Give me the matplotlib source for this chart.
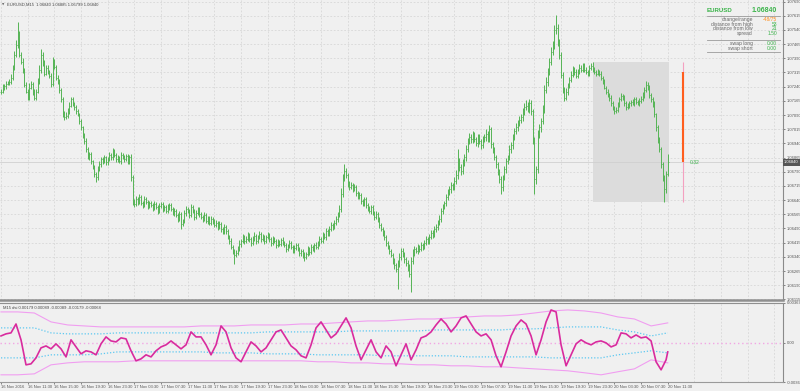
import numpy as np
import matplotlib
matplotlib.use("Agg")
import matplotlib.pyplot as plt
from matplotlib.patches import Rectangle

plt.rcParams['font.family'] = ['Liberation Sans', 'DejaVu Sans']

# ---------------- data ----------------
symbol = "EURUSD"
timeframe = "M15"
title_ohlc = "1.06840 1.06885 1.06799 1.06840"

# bar closes in points (1e-5)
close_pts = [
    107214, 107235, 107245, 107256, 107261, 107266, 107287, 107340, 107409, 107461,
    107514, 107409, 107372, 107330, 107251, 107214, 107182, 107235, 107256, 107214,
    107182, 107214, 107266, 107330, 107409, 107361, 107309, 107340, 107319, 107298,
    107256, 107372, 107345, 107287, 107266, 107224, 107172, 107098, 107077, 107087,
    107109, 107140, 107172, 107151, 107130, 107109, 107093, 107056, 107024, 106982,
    106951, 106909, 106866, 106882, 106845, 106814, 106777, 106761, 106803, 106830,
    106856, 106845, 106866, 106840, 106856, 106877, 106866, 106898, 106877, 106856,
    106866, 106845, 106877, 106866, 106856, 106872, 106845, 106866, 106761, 106635,
    106619, 106645, 106630, 106656, 106624, 106614, 106645, 106630, 106609, 106624,
    106614, 106598, 106619, 106603, 106582, 106609, 106619, 106593, 106603, 106582,
    106603, 106614, 106593, 106572, 106582, 106561, 106540, 106566, 106514, 106530,
    106572, 106593, 106582, 106561, 106603, 106582, 106551, 106572, 106593, 106566,
    106551, 106540, 106561, 106530, 106545, 106519, 106540, 106530, 106509, 106519,
    106498, 106514, 106488, 106472, 106498, 106477, 106445, 106424, 106393, 106372,
    106351, 106361, 106382, 106409, 106424, 106445, 106424, 106435, 106456, 106435,
    106414, 106435, 106451, 106424, 106445, 106461, 106435, 106445, 106424, 106445,
    106456, 106435, 106414, 106435, 106424, 106403, 106419, 106409, 106430, 106414,
    106403, 106382, 106398, 106414, 106393, 106372, 106388, 106403, 106382, 106361,
    106372, 106351, 106340, 106356, 106382, 106366, 106393, 106382, 106403, 106393,
    106414, 106435, 106424, 106456, 106445, 106477, 106461, 106488, 106509, 106498,
    106519, 106540, 106561, 106593, 106672, 106751, 106793, 106772, 106730, 106709,
    106719, 106698, 106709, 106677, 106656, 106666, 106635, 106619, 106645, 106614,
    106593, 106582, 106603, 106572, 106551, 106566, 106540, 106509, 106488, 106466,
    106445, 106414, 106393, 106372, 106351, 106319, 106298, 106277, 106309, 106340,
    106372, 106356, 106330, 106309, 106288, 106251, 106319, 106361, 106382, 106372,
    106393, 106382, 106403, 106393, 106414, 106435, 106424, 106445, 106466, 106456,
    106488, 106498, 106519, 106540, 106582, 106603, 106624, 106656, 106677, 106698,
    106719, 106709, 106740, 106772, 106845, 106814, 106793, 106835, 106866, 106909,
    106951, 106972, 106961, 106982, 106961, 106940, 106972, 106951, 106930, 106961,
    106972, 106987, 106961, 107014, 106935, 106909, 106866, 106830, 106793, 106751,
    106709, 106761, 106803, 106845, 106866, 106909, 106930, 106972, 107003, 107024,
    107045, 107066, 107077, 107109, 107130, 107140, 107119, 107151, 107109, 106961,
    106751, 106803, 106987, 107024, 107056, 107119, 107224, 107266, 107319, 107372,
    107424, 107461, 107540, 107551, 107477, 107409, 107303, 107224, 107182, 107214,
    107245, 107277, 107303, 107330, 107319, 107298, 107319, 107340, 107330, 107351,
    107330, 107319, 107309, 107340, 107351, 107330, 107319, 107309, 107319, 107309,
    107287, 107266, 107235, 107214, 107198, 107182, 107151, 107130, 107109, 107119,
    107145, 107172, 107193, 107182, 107151, 107130, 107140, 107151, 107161, 107151,
    107172, 107161, 107151, 107166, 107177, 107198, 107224, 107251, 107235, 107198,
    107172, 107151, 107093, 107024, 106961, 106909, 106830, 106761, 106698, 106777,
    106840,
]

# how far each bar's high / low reaches beyond its body (points)
hi_ext = [
    12, 18, 10, 15, 9, 14, 20, 16, 22, 25, 68, 20, 14, 18, 10, 12, 16, 22, 14, 10,
    15, 12, 20, 25, 30, 14, 18, 12, 16, 10, 14, 24, 12, 10, 15, 12, 9, 14, 12, 18,
    16, 20, 14, 12, 10, 15, 12, 10, 14, 9, 12, 16, 10, 14, 12, 9, 12, 10, 18, 15,
    12, 10, 14, 9, 12, 16, 10, 18, 12, 10, 14, 9, 15, 10, 12, 14, 10, 12, 16, 14,
    12, 18, 10, 14, 9, 12, 15, 10, 12, 14, 10, 12, 16, 9, 10, 14, 12, 9, 12, 10,
    14, 12, 9, 10, 15, 12, 10, 14, 9, 12, 18, 14, 10, 9, 16, 12, 10, 14, 12, 10,
    12, 9, 14, 10, 12, 9, 15, 10, 12, 14, 10, 16, 9, 12, 14, 10, 12, 9, 14, 10,
    12, 16, 14, 18, 12, 15, 10, 14, 16, 12, 10, 14, 18, 12, 10, 16, 12, 14, 10, 12,
    15, 10, 12, 14, 9, 12, 16, 10, 12, 14, 10, 9, 12, 15, 10, 12, 14, 10, 9, 12,
    12, 10, 14, 12, 16, 10, 14, 12, 10, 15, 12, 16, 10, 14, 12, 18, 10, 14, 16, 12,
    14, 16, 18, 20, 30, 25, 37, 18, 14, 12, 16, 12, 14, 10, 12, 15, 10, 12, 14, 10,
    12, 14, 10, 12, 9, 14, 12, 10, 12, 9, 14, 10, 12, 9, 12, 10, 14, 12, 16, 18,
    14, 16, 12, 10, 14, 12, 20, 18, 14, 12, 16, 12, 14, 10, 16, 14, 12, 16, 18, 14,
    16, 14, 18, 20, 16, 18, 14, 16, 20, 18, 16, 14, 20, 25, 63, 20, 16, 22, 20, 24,
    20, 24, 18, 22, 16, 14, 20, 18, 14, 16, 20, 30, 16, 24, 14, 12, 14, 10, 12, 10,
    14, 12, 16, 18, 14, 20, 16, 18, 20, 22, 18, 20, 16, 20, 24, 30, 18, 22, 16, 12,
    14, 16, 24, 20, 18, 22, 26, 24, 20, 22, 24, 20, 26, 68, 18, 14, 12, 16, 14, 18,
    16, 14, 18, 20, 14, 12, 16, 20, 14, 16, 12, 14, 10, 14, 12, 19, 12, 10, 14, 10,
    12, 10, 14, 9, 12, 10, 12, 14, 10, 12, 16, 14, 12, 10, 14, 12, 16, 12, 10, 14,
    12, 14, 10, 16, 14, 12, 16, 18, 14, 12, 10, 14, 12, 10, 12, 14, 10, 12, 14, 16,
    45,
]
lo_ext = [
    14, 10, 12, 16, 9, 12, 10, 14, 12, 10, 16, 14, 12, 18, 14, 10, 12, 14, 10, 16,
    12, 14, 10, 12, 16, 14, 12, 10, 14, 12, 16, 12, 10, 14, 12, 16, 14, 18, 12, 10,
    14, 12, 10, 16, 12, 14, 10, 12, 14, 16, 12, 14, 10, 12, 14, 12, 16, 26, 12, 10,
    14, 12, 10, 16, 12, 9, 14, 12, 10, 14, 12, 10, 14, 9, 12, 10, 14, 12, 18, 22,
    14, 12, 16, 10, 12, 14, 10, 12, 16, 10, 12, 14, 10, 12, 16, 12, 10, 14, 12, 10,
    12, 14, 10, 12, 16, 12, 14, 10, 27, 12, 10, 14, 12, 16, 10, 12, 14, 12, 10, 14,
    12, 14, 10, 12, 16, 12, 10, 14, 12, 10, 14, 12, 16, 10, 12, 14, 12, 16, 14, 18,
    48, 14, 12, 10, 16, 12, 14, 10, 12, 14, 16, 12, 10, 14, 12, 10, 14, 12, 16, 10,
    12, 14, 16, 10, 12, 14, 10, 12, 14, 10, 12, 16, 10, 12, 14, 12, 10, 14, 12, 16,
    14, 16, 20, 12, 10, 14, 12, 10, 14, 12, 10, 14, 12, 10, 12, 14, 10, 12, 10, 14,
    12, 10, 14, 12, 16, 14, 12, 16, 18, 14, 12, 16, 12, 14, 12, 10, 14, 12, 10, 14,
    12, 10, 14, 12, 16, 12, 14, 16, 12, 18, 14, 16, 12, 18, 14, 16, 20, 18, 105, 20,
    18, 16, 20, 18, 22, 20, 95, 18, 16, 14, 16, 14, 12, 16, 14, 12, 16, 14, 12, 14,
    12, 14, 16, 12, 14, 16, 12, 14, 16, 12, 18, 14, 16, 14, 20, 18, 22, 16, 14, 18,
    16, 14, 18, 20, 16, 14, 18, 16, 20, 14, 16, 18, 14, 16, 20, 18, 16, 20, 18, 22,
    37, 20, 16, 18, 14, 16, 20, 18, 14, 16, 18, 14, 16, 18, 20, 16, 14, 18, 20, 24,
    79, 24, 20, 18, 22, 16, 20, 18, 22, 16, 20, 18, 22, 20, 24, 22, 20, 18, 16, 14,
    16, 14, 12, 14, 16, 12, 14, 10, 12, 14, 12, 10, 14, 12, 10, 12, 14, 12, 10, 12,
    14, 12, 10, 14, 12, 16, 14, 12, 14, 10, 12, 14, 10, 12, 14, 12, 10, 14, 12, 10,
    12, 14, 10, 12, 14, 12, 16, 14, 12, 16, 14, 18, 16, 20, 18, 16, 20, 18, 68, 22,
    10,
]

time_labels = [
    "16 Nov 2016", "16 Nov 11:30", "16 Nov 15:30", "16 Nov 19:30", "16 Nov 23:30",
    "17 Nov 03:30", "17 Nov 07:30", "17 Nov 11:30", "17 Nov 15:30", "17 Nov 19:30",
    "17 Nov 23:30", "18 Nov 03:30", "18 Nov 07:30", "18 Nov 11:30", "18 Nov 15:30",
    "18 Nov 19:30", "18 Nov 23:30", "19 Nov 03:30", "19 Nov 07:30", "19 Nov 11:30",
    "19 Nov 15:30", "19 Nov 19:30", "19 Nov 23:30", "20 Nov 03:30", "20 Nov 07:30",
    "20 Nov 11:30",
]
bars_per_label = 16

price_ticks = [1.07690, 1.07615, 1.07540, 1.07465, 1.07390, 1.07315, 1.07240,
               1.07165, 1.07090, 1.07015, 1.06940, 1.06865, 1.06790, 1.06715,
               1.06640, 1.06565, 1.06490, 1.06415, 1.06340, 1.06265, 1.06190,
               1.06115]

# day statistics
day_start_bar = 355
day_open = 1.07320
current_price = 1.06840
timer_text = "0:32"
info_rows = [("change/range", "-48/75", "#ff8c1a"),
             ("distance from high", "53", "#3cb44b"),
             ("distance from low", "21", "#3cb44b"),
             ("spread", "1.50", "#3cb44b")]
swap_rows = [("swap long", "0.00"), ("swap short", "0.00")]

# oscillator (1e-5 units), sampled every 3 bars + last bar
osc_vals = [
    64, 83, 92, 174, 28, -202, -193, -138, -46, -28,
    -55, -9, -55, -129, 28, -37, -101, -73, -83, -110,
    -9, 55, 18, 9, 46, 37, -73, -165, -147, -110,
    -129, -73, -37, -18, 18, -18, -55, -18, 101, 55,
    55, -18, -110, -18, 156, 101, -46, -138, -174, -83,
    9, -28, -83, -46, 28, 101, 119, 46, -28, -64,
    -119, -138, -18, 138, 193, 119, 46, 83, 156, 230,
    138, -28, -156, -64, 28, -83, -138, -28, -83, -211,
    -110, -9, -156, -64, 46, 64, 101, 165, 220, 174,
    101, 156, 230, 248, 174, 101, 64, 83, 28, -119,
    -220, -83, 64, 156, 211, 174, 64, -110, 28, 193,
    303, 285, -18, -211, -110, -9, 28, 0, -18, 9,
    18, 0, -37, -18, 92, 83, 46, 73, 46, 55,
    18, -174, -248, -156, -83,
]
osc_bars = list(range(0, 400, 3)) + [400]

# bands sampled every 10 bars
band_bars = list(range(0, 401, 10))
band_outer_up = [285, 285, 275, 193, 165, 156, 147, 147, 147, 147, 147, 147, 156, 156,
                 156, 165, 165, 165, 174, 174, 184, 193, 202, 202, 211, 220, 220, 230,
                 239, 248, 248, 257, 275, 294, 303, 294, 275, 239, 220, 156, 184]
band_outer_lo = [-294, -294, -285, -202, -184, -174, -174, -174, -165, -165, -165, -165,
                 -165, -165, -165, -165, -165, -165, -165, -174, -174, -184, -184, -193,
                 -193, -202, -202, -211, -211, -220, -220, -230, -239, -248, -257, -275,
                 -294, -266, -239, -156, -184]
band_inner_up = [138, 138, 138, 92, 83, 83, 83, 92, 92, 92, 92, 92, 92, 92, 92, 92, 101,
                 101, 101, 101, 101, 110, 110, 110, 110, 110, 119, 119, 119, 119, 119,
                 129, 129, 138, 147, 147, 147, 119, 101, 64, 92]
band_inner_lo = [-138, -138, -138, -110, -110, -110, -101, -83, -83, -83, -83, -83, -83,
                 -92, -92, -92, -101, -101, -101, -110, -110, -110, -110, -119, -119,
                 -119, -119, -119, -129, -129, -129, -129, -129, -138, -138, -138, -138,
                 -110, -92, -73, -92]
osc_label = "M15 dsi 0.00179 0.00089 -0.00089 -0.00179 -0.00068"

# ---------------- prep ----------------
n = min(len(close_pts), len(hi_ext), len(lo_ext))
close = np.array(close_pts[:n]) / 1e5
opn = np.r_[close[0], close[:-1]]
high = np.maximum(opn, close) + np.array(hi_ext[:n]) / 1e5
low = np.minimum(opn, close) - np.array(lo_ext[:n]) / 1e5
idx = np.arange(n)

W, H = 800, 391
BG = '#f0f0f0'
GRID = '#d2d2d2'
TXT = '#555555'
BAR = '#55b455'
FS = 3.0

fig = plt.figure(figsize=(W / 100, H / 100), dpi=100, facecolor=BG)
ax = fig.add_axes([0, 1 - 300 / H, 783 / W, 300 / H], facecolor=BG)
ax2 = fig.add_axes([0, 1 - 382 / H, 783 / W, 79 / H], facecolor=BG)

# x scale: bar index, 16 bars per 26.67 px
px_per_bar = 26.67 / 16
xmin = -1 / px_per_bar
xmax = (783 - 1) / px_per_bar
for a in (ax, ax2):
    a.set_xlim(xmin, xmax)

grid_x = np.arange(0, xmax, bars_per_label)

# ---------------- main panel ----------------
ax.set_ylim(1.06112, 1.07698)
ax.set_xticks(grid_x)
ax.set_xticklabels([])
ax.tick_params(axis='x', length=0)
ax.set_yticks(price_ticks)
ax.set_yticklabels([f"{p:.5f}" for p in price_ticks])
ax.yaxis.tick_right()
ax.tick_params(axis='y', labelsize=FS, colors=TXT, length=1.5, width=0.5, pad=1.2)
ax.grid(True, color=GRID, lw=0.5, ls=(0, (2.5, 2.5)))
ax.set_axisbelow(True)
for s in ('left', 'top'):
    ax.spines[s].set_visible(False)
ax.spines['right'].set_color('#8a8a8a')
ax.spines['right'].set_linewidth(0.8)
ax.spines['bottom'].set_color('#8f8f8f')
ax.spines['bottom'].set_linewidth(1.8)

# day range box
box_top = high[day_start_bar:].max()
box_bot = low[day_start_bar:].min()
ax.add_patch(Rectangle((day_start_bar, box_bot), (n - 1) + 0.5 - day_start_bar,
                       box_top - box_bot, facecolor='#dcdcdc', edgecolor='none', zorder=1))

# current price line
ax.axhline(current_price, color='#d0d0d0', lw=0.6, zorder=1.5)

# OHLC bars
ax.vlines(idx, low, high, color=BAR, lw=0.7, zorder=3)
ax.hlines(opn, idx - 0.45, idx, color=BAR, lw=0.5, zorder=3)
ax.hlines(close, idx, idx + 0.45, color=BAR, lw=0.5, zorder=3)

# range / change lines
xr = n - 1 + 9
ax.vlines([xr], [box_bot], [box_top], color='#f4a0c0', lw=0.8, zorder=4)
ax.vlines([xr], [current_price], [day_open], color='#ff5e1e', lw=1.5, zorder=5)
ax.text(xr + 4, current_price, timer_text, color='#3cb44b', fontsize=3.6,
        va='center', ha='left', zorder=6)

# current price label on the axis
ax.text(1.0015, current_price, "1.06840", transform=ax.get_yaxis_transform(),
        fontsize=FS, color='white', va='center', ha='left', clip_on=False,
        bbox=dict(boxstyle='square,pad=0.3', fc='#555555', ec='none'), zorder=10)

# header
fig.text(2 / W, 1 - 5 / H, "\u25bc", fontsize=2.2, color='#666666', va='center',
         family='DejaVu Sans')
fig.text(7 / W, 1 - 5 / H, f"{symbol},{timeframe}  {title_ohlc}", fontsize=FS,
         color='#444444', va='center', ha='left')

# info panel
gx0, gx1 = 707 / W, 780 / W
fig.text(707 / W, 1 - 10.5 / H, symbol, fontsize=4.4, color='#3cb44b',
         fontweight='bold', va='center', ha='left')
fig.text(777 / W, 1 - 11 / H, f"{current_price:.5f}", fontsize=5.0, color='#3cb44b',
         fontweight='bold', va='center', ha='right')
for yy in (15.5, 39.5, 52):
    fig.add_artist(plt.Line2D([gx0, gx1], [1 - yy / H, 1 - yy / H],
                              color='#9a9a9a', lw=0.6, transform=fig.transFigure))
for k, (lab, val, col) in enumerate(info_rows):
    y = 1 - (19.5 + 4.6 * k) / H
    fig.text(753 / W, y, lab, fontsize=3.6, color='#666666', va='center', ha='right')
    fig.text(777 / W, y, val, fontsize=3.6, color=col, va='center', ha='right')
for k, (lab, val) in enumerate(swap_rows):
    y = 1 - (43.5 + 4.6 * k) / H
    fig.text(753 / W, y, lab, fontsize=3.6, color='#666666', va='center', ha='right')
    fig.text(777 / W, y, val, fontsize=3.6, color='#3cb44b', va='center', ha='right')

# ---------------- oscillator panel ----------------
s = 1e-5
ax2.set_ylim(-360 * s, 367 * s)
ax2.set_xticks(np.arange(0, n, bars_per_label))
ax2.set_xticklabels(time_labels, ha='left')
ax2.set_xticks(grid_x, minor=True)
ax2.tick_params(axis='x', which='major', labelsize=FS, colors=TXT, length=1.5,
                width=0.5, pad=1.0)
ax2.tick_params(axis='x', which='minor', length=0)
ax2.xaxis.grid(True, which='minor', color=GRID, lw=0.5, ls=(0, (2.5, 2.5)))
ax2.set_axisbelow(True)
ax2.yaxis.tick_right()
ax2.set_yticks([367 * s, 0, -360 * s])
ax2.set_yticklabels(["0.00367", "0.00", "-0.0036"])
ax2.tick_params(axis='y', labelsize=FS, colors=TXT, length=1.5, width=0.5, pad=1.2)
ax2.spines['left'].set_visible(False)
ax2.spines['top'].set_color('#8f8f8f')
ax2.spines['top'].set_linewidth(0.8)
ax2.spines['right'].set_color('#8a8a8a')
ax2.spines['right'].set_linewidth(0.8)
ax2.spines['bottom'].set_color('#9a9a9a')
ax2.spines['bottom'].set_linewidth(0.8)

ax2.axhline(0, color='#f2a6e4', lw=1.0, ls=(0, (1, 2)), zorder=2)
ax2.plot(band_bars, np.array(band_outer_up) * s, color='#f09ef0', lw=0.8, zorder=3)
ax2.plot(band_bars, np.array(band_outer_lo) * s, color='#f09ef0', lw=0.8, zorder=3)
ax2.plot(band_bars, np.array(band_inner_up) * s, color='#5cc8f0', lw=0.9,
         ls=(0, (1, 1.5)), zorder=3)
ax2.plot(band_bars, np.array(band_inner_lo) * s, color='#5cc8f0', lw=0.9,
         ls=(0, (1, 1.5)), zorder=3)
ax2.plot(osc_bars, np.array(osc_vals) * s, color='#d92b9e', lw=1.2, zorder=4,
         solid_joinstyle='round')
ax2.text(3 / 783, 1 - 3 / 79, osc_label, transform=ax2.transAxes, fontsize=FS,
         color='#444444', va='top', ha='left')

fig.savefig("out.png", dpi=100, facecolor=BG)
